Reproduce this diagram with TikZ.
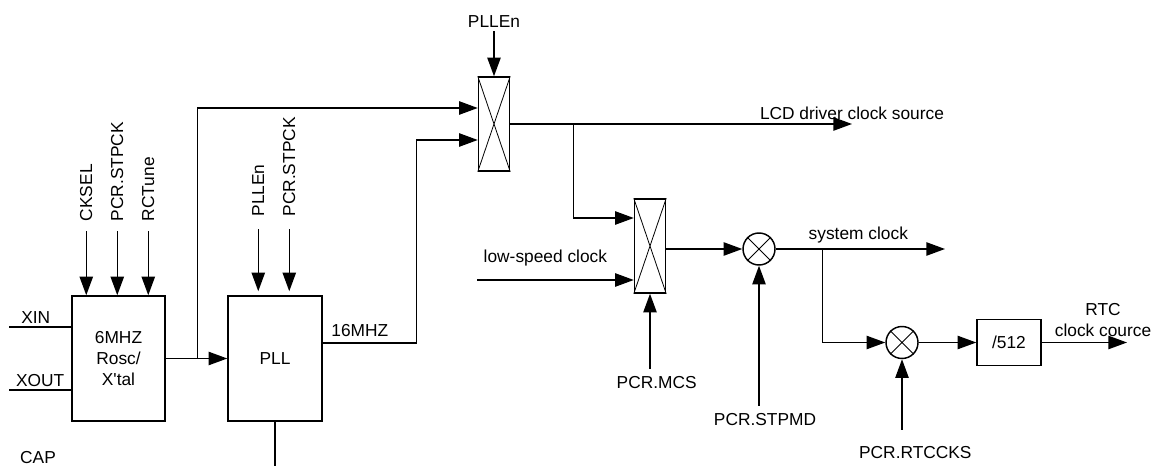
\documentclass[tikz,border=0pt]{standalone}
\usepackage{fontspec}
\setmainfont{Liberation Sans}
\usetikzlibrary{arrows.meta,calc}
\tikzset{>={Triangle[length=14pt,width=10pt]}}
\newcommand\pxu{0.75pt}

\begin{document}
\begin{tikzpicture}[x=\pxu, y=-\pxu, line width=1.1pt,
  font=\fontsize{13}{15.75}\selectfont,
  blk/.style={draw, inner sep=0pt, align=center},
  mux/.style={draw, inner sep=0pt, minimum width=31*\pxu, minimum height=94*\pxu},
  mul/.style={draw, circle, inner sep=0pt, minimum size=32*\pxu},
  cross/.style={line width=0.6pt}]

  \fill[white] (0,0) rectangle (1159,466);
  \useasboundingbox (0,0) rectangle (1159,466);

  % blocks
  \node[blk, minimum width=93*\pxu, minimum height=125*\pxu] (osc) at (118.5,358.5) {6MHZ\\Rosc/\\X\textquotesingle tal};
  \node[blk, minimum width=94*\pxu, minimum height=125*\pxu] (pll) at (275,358.5) {PLL};
  \node[mux] (muxa) at (494,124) {};
  \node[mux] (muxb) at (650,246) {};
  \node[mul] (mula) at (759,249) {};
  \node[mul] (mulb) at (902,342.5) {};
  \node[blk, minimum width=64*\pxu, minimum height=46*\pxu] (div) at (1009,342.5) {/512};
  \foreach \n in {muxa,muxb,mula,mulb}
    \draw[cross] (\n.north west) -- (\n.south east) (\n.north east) -- (\n.south west);

  % oscillator and pll
  \coordinate (xin) at (9,327);
  \coordinate (xout) at (9,390);
  \draw (xin) -- node[above, pos=0.43, inner sep=2pt] (xinlbl) {XIN} (xin -| osc.west);
  \draw (xout) -- node[above, pos=0.5, inner sep=2pt] (xoutlbl) {XOUT} (xout -| osc.west);
  \node[inner sep=0pt] (cap) at (38,458) {CAP};
  \foreach \dx/\sig in {15/CKSEL,46/PCR.STPCK,77/RCTune}
    \draw[<-] ($(osc.north west)+(\dx,0)$) -- ++(0,-64) node[rotate=90, anchor=west, inner sep=7pt]{\sig};
  \foreach \dx/\sig in {31/PLLEn,62/PCR.STPCK}
    \draw[<-] ($(pll.north west)+(\dx,-4)$) -- ++(0,-62) node[rotate=90, anchor=west, inner sep=9pt]{\sig};
  \draw[->] (osc.east) -- (pll.west);
  \draw (pll.south) -- ++(0,50);

  % lcd clock selector
  \coordinate (tapa) at ($(osc.east)+(32,0)$);
  \draw[->] (tapa) |- ($(muxa.west)+(0,-16)$);
  \draw[->] ($(pll.east)+(0,-15.5)$) -- node[pos=0, anchor=south west, inner sep=4pt, xshift=2pt] (mhzlbl) {16MHZ} ++(94,0) |- ($(muxa.west)+(0,16)$);
  \node[inner sep=2pt] (pllen) at (494,22) {PLLEn};
  \draw[->] (pllen) -- (muxa.north);
  \coordinate (lcd) at (852,124);
  \draw[->] (muxa.east) -- (lcd) node[anchor=base, yshift=3pt] (lcdlbl) {LCD driver clock source};

  % system clock selector
  \coordinate (tapb) at ($(muxa.east)+(63,0)$);
  \draw[->] (tapb) |- ($(muxb.west)+(0,-28)$);
  \coordinate (lsc) at (477,280);
  \draw[->] (lsc) node[anchor=base west, inner sep=0pt, xshift=4.5pt, yshift=12.75pt] (lsclbl) {low-speed clock} -- (lsc -| muxb.west);
  \draw[<-] (muxb.south) -- ++(0,75) node[below, xshift=5pt, yshift=-2pt] (mcs) {PCR.MCS};
  \draw[->] (muxb.east |- mula) -- (mula.west);
  \draw[<-] (mula.south) -- ++(0,140) node[below, xshift=4.5pt, yshift=-1.5pt] (stpmd) {PCR.STPMD};
  \coordinate (sys) at (945,249);
  \draw[->] (mula.east) -- (sys);
  \node[anchor=base west, inner sep=0pt] (syslbl) at (808,239.5) {system clock};

  % rtc clock
  \coordinate (tapc) at ($(mula.east)+(47,0)$);
  \draw[->] (tapc) |- (mulb.west);
  \draw[<-] (mulb.south) -- ++(0,71) node[below, xshift=10pt, yshift=-8pt] (rtccks) {PCR.RTCCKS};
  \draw[->] (mulb.east) -- (div.west);
  \coordinate (rtc) at (1127,342.5);
  \draw[->] (div.east) -- (rtc);
  \node[align=center] (rtclbl) at (1103,320) {RTC\\clock cource};
\end{tikzpicture}
\end{document}
